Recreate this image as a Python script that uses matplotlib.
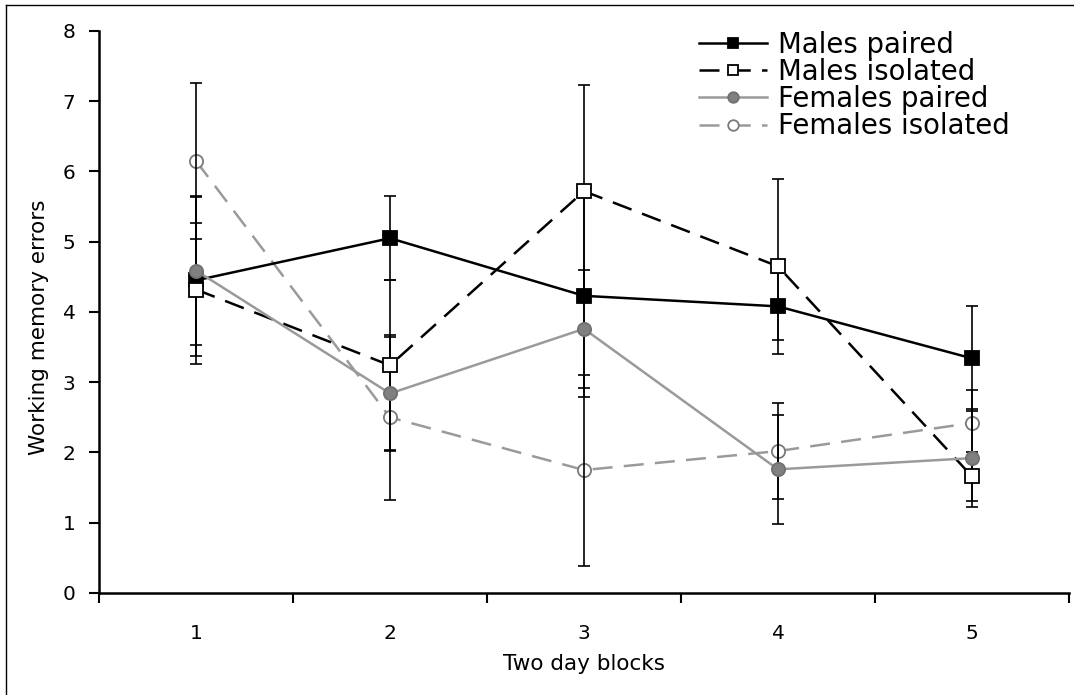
import matplotlib
matplotlib.use('Agg')
import matplotlib.pyplot as plt
from matplotlib.lines import Line2D

# two day blocks on the x axis
blocks = [1, 2, 3, 4, 5]
tick_labels = ['1', '2', '3', '4', '5']

# mean working memory errors and their error bars, one list per group
males_paired = [4.45, 5.05, 4.23, 4.08, 3.34]
males_paired_err = [1.19, 0.60, 1.44, 0.48, 0.75]
males_isolated = [4.32, 3.24, 5.72, 4.65, 1.66]
males_isolated_err = [0.94, 1.22, 1.51, 1.25, 0.35]
females_paired = [4.59, 2.84, 3.76, 1.76, 1.92]
females_paired_err = [1.06, 0.81, 0.84, 0.78, 0.70]
females_isolated = [6.15, 2.50, 1.75, 2.02, 2.42]
females_isolated_err = [1.11, 1.17, 1.36, 0.68, 0.47]

GREY = '#9a9a9a'
DASH = (0, (8, 4.5))


def main():
    fig = plt.figure(figsize=(10.74, 6.95), dpi=100)
    ax = fig.add_axes([0.0922, 0.1468, 0.9031, 0.8086])

    series = [
        (males_paired, males_paired_err, 'Males paired',
         dict(color='black', ls='-', marker='s', mfc='black', mec='black')),
        (males_isolated, males_isolated_err, 'Males isolated',
         dict(color='black', ls=DASH, marker='s', mfc='white', mec='black')),
        (females_paired, females_paired_err, 'Females paired',
         dict(color=GREY, ls='-', marker='o', mfc='#808080', mec='#707070')),
        (females_isolated, females_isolated_err, 'Females isolated',
         dict(color=GREY, ls=DASH, marker='o', mfc='white', mec='#7a7a7a')),
    ]

    for vals, err, name, st in series:
        # open circles sit under every error bar, other markers above them
        z = 3 if name == 'Females isolated' else 4
        ax.plot(blocks, vals, lw=1.8, ms=9.5, mew=1.3, label=name, zorder=z, **st)
        ax.errorbar(blocks, vals, yerr=err, fmt='none', ecolor='black',
                    elinewidth=1.2, capsize=4.5, capthick=1.2, zorder=3.5)

    ax.set_xlim(0.5, 5.5)
    ax.set_ylim(0, 8)
    ax.set_yticks(range(0, 9))
    ax.set_xticks([0.5, 1.5, 2.5, 3.5, 4.5, 5.5])
    ax.set_xticklabels([])
    ax.set_xticks(blocks, minor=True)
    ax.set_xticklabels(tick_labels, minor=True)
    ax.tick_params(axis='x', which='major', direction='out', length=7, width=1.5)
    ax.tick_params(axis='x', which='minor', length=0, pad=22, labelsize=14.5)
    ax.tick_params(axis='y', direction='out', length=7, width=1.5, pad=10,
                   labelsize=14.5)

    for s in ['top', 'right']:
        ax.spines[s].set_visible(False)
    for s in ['left', 'bottom']:
        ax.spines[s].set_linewidth(1.8)

    ax.set_xlabel('Two day blocks', fontsize=15.5, labelpad=8)
    ax.set_ylabel('Working memory errors', fontsize=15.5)
    ax.yaxis.set_label_coords(-0.052, 0.473)

    ax.legend(loc='upper right', bbox_to_anchor=(0.95, 1.02), frameon=False,
              fontsize=19.8, handlelength=2.5, labelspacing=-0.03,
              handletextpad=0.38, borderaxespad=0, markerscale=0.8)

    # thin frame line along the left and top edges of the figure
    fig.add_artist(Line2D([0.0052, 0.0052], [0, 0.9928], color='black',
                          lw=1, transform=fig.transFigure))
    fig.add_artist(Line2D([0.0052, 1], [0.9928, 0.9928], color='black',
                          lw=1, transform=fig.transFigure))

    fig.savefig('out.png', dpi=100)


if __name__ == '__main__':
    main()
